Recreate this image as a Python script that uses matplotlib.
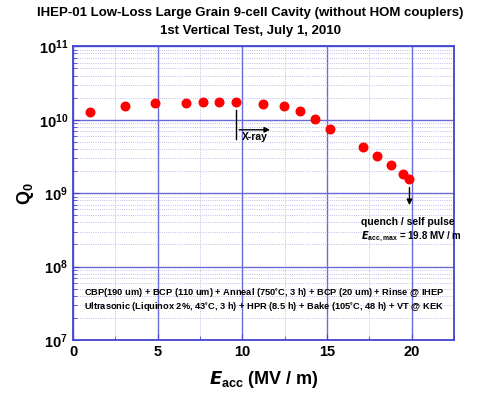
import matplotlib.pyplot as plt
from matplotlib.ticker import LogLocator, MultipleLocator, NullFormatter

plt.rcParams['font.family'] = ['Liberation Sans', 'DejaVu Sans']
plt.rcParams['font.weight'] = 'bold'
plt.rcParams['mathtext.default'] = 'regular'

# Eacc (MV/m) and Q0
e_acc = [1.0, 3.05, 4.85, 6.7, 7.7, 8.65, 9.6, 11.2, 12.45, 13.4, 14.3,
         15.2, 17.1, 17.95, 18.8, 19.5, 19.85]
q0 = [1.29e10, 1.56e10, 1.68e10, 1.71e10, 1.73e10, 1.73e10, 1.73e10,
      1.66e10, 1.53e10, 1.32e10, 1.04e10, 7.4e9, 4.27e9, 3.22e9, 2.41e9,
      1.84e9, 1.57e9]

blue = '#4444d0'

fig = plt.figure(figsize=(5, 3.93), dpi=100)
ax = fig.add_axes([0.146, 0.135, 0.762, 0.747])

ax.scatter(e_acc, q0, s=38, c='red', edgecolors='red', zorder=3)

ax.set_yscale('log')
ax.set_xlim(0, 22.5)
ax.set_ylim(1e7, 1e11)
ax.xaxis.set_major_locator(MultipleLocator(5))
ax.xaxis.set_minor_locator(MultipleLocator(2.5))
ax.yaxis.set_major_locator(LogLocator(base=10, numticks=10))
ax.yaxis.set_minor_locator(LogLocator(base=10, subs=range(2, 10), numticks=10))
ax.yaxis.set_minor_formatter(NullFormatter())

ax.grid(True, which='major', color='#6a6ad8', lw=1.0)
ax.grid(True, which='minor', color='#a8a8e6', lw=0.6, ls=':')
for s in ax.spines.values():
    s.set_color(blue)
    s.set_linewidth(1.3)
ax.tick_params(which='both', direction='in', colors=blue, labelcolor='black',
               labelsize=10.5)
ax.tick_params(which='major', length=4)
ax.tick_params(which='minor', length=3)
for lab in ax.get_xticklabels() + ax.get_yticklabels():
    lab.set_fontweight('bold')

# X-ray onset marker
ax.plot([9.65, 9.65], [1.35e10, 5.4e9], color='black', lw=1)
ax.annotate('', xy=(11.8, 7.3e9), xytext=(9.65, 7.3e9),
            arrowprops=dict(arrowstyle='-|>', color='black', lw=1,
                            mutation_scale=8))
ax.text(10.0, 6.8e9, 'X-ray', fontsize=7.5, fontweight='bold', va='top')

# quench arrow
ax.annotate('', xy=(19.87, 6.3e8), xytext=(19.87, 1.3e9),
            arrowprops=dict(arrowstyle='-|>', color='black', lw=1,
                            mutation_scale=8))
ax.text(17.0, 4.1e8, 'quench / self pulse', fontsize=7.5, fontweight='bold',
        va='center')
ax.text(17.0, 2.55e8, r'$\mathbfit{E}_{acc,max}$ = 19.8 MV / m',
        fontsize=7, fontweight='bold', va='center')

ax.text(11.3, 4.4e7,
        'CBP(190 um) + BCP (110 um) + Anneal (750$^{\\circ}$C, 3 h) + BCP (20 um) + Rinse @ IHEP',
        fontsize=6.7, fontweight='bold', ha='center', va='center')
ax.text(11.3, 2.9e7,
        'Ultrasonic (Liquinox 2%, 43$^{\\circ}$C, 3 h) + HPR (8.5 h) + Bake (105$^{\\circ}$C, 48 h) + VT @ KEK',
        fontsize=6.7, fontweight='bold', ha='center', va='center')

ax.set_xlabel(r'$\mathbfit{E}_{acc}$ (MV / m)', fontsize=13,
              fontweight='bold', labelpad=7)
ax.set_ylabel(r'Q$_{0}$', fontsize=13, fontweight='bold', labelpad=2)

fig.text(0.5, 0.968, 'IHEP-01 Low-Loss Large Grain 9-cell Cavity (without HOM couplers)',
         ha='center', va='center', fontsize=9.5, fontweight='bold')
fig.text(0.5, 0.922, '1st Vertical Test, July 1, 2010', ha='center',
         va='center', fontsize=9.5, fontweight='bold')

fig.savefig('out.png', dpi=100)
